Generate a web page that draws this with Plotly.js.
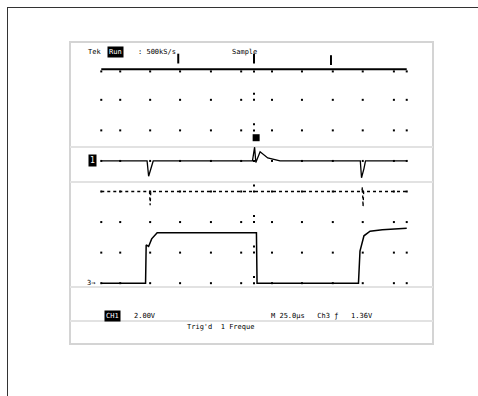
<!DOCTYPE html>
<html>
<head>
<meta charset="utf-8">
<script src="https://cdn.plot.ly/plotly-3.0.1.min.js"></script>
<style>html,body{margin:0;padding:0;background:#fff;}#chart{width:478px;height:396px;}</style>
</head>
<body>
<div id="chart"></div>
<script>
// ---- data (in screen divisions: x 0..10 time, y -4..+4 vertical) ----
var gridX = [0, 0.62, 1.6, 2.58, 3.59, 4.58, 5.0, 5.59, 6.57, 7.58, 8.56, 9.58, 10];
var gridY = [3, 2, 1, 0, -1, -2, -3];
var centerTickY = [3.2, 2.2, 0.2, -0.8, -1.8, -2.8];

var ch1X = [0, 1.5, 1.55, 1.62, 1.7, 4.95, 5.02, 5.06, 5.2, 5.45, 5.85, 8.48, 8.52, 8.6, 8.65, 10];
var ch1Y = [1.0, 1.0, 0.5, 0.7, 1.0, 1.0, 1.45, 0.95, 1.3, 1.1, 1.0, 1.0, 0.45, 0.75, 1.0, 1.0];

var ch2X = [0, 1.58, 1.6, 1.62, 8.53, 8.55, 8.57, 8.59, 10];
var ch2Y = [0, 0, -0.45, 0, 0, 0.15, -0.5, 0, 0];

var ch3X = [0, 1.45, 1.47, 1.55, 1.65, 1.83, 5.08, 5.1, 8.42, 8.47, 8.6, 8.8, 9.2, 10];
var ch3Y = [-3.0, -3.0, -1.75, -1.8, -1.55, -1.35, -1.35, -3.0, -3.0, -1.95, -1.45, -1.3, -1.25, -1.2];

var topMarkX = [2.52, 5.0, 7.52];
var topMarkY = [4.35, 4.35, 4.3];
var trigX = [5.07];
var trigY = [1.76];

var topLabels = ["Tek", "Run", ": 500kS/s", "Sample"];
var bottomLabels = ["CH1", "2.00V", "M 25.0\u00b5s   Ch3 \u0192   1.36V", "Trig'd  1 Freque"];

// ---- build ----
var gx = [], gy = [];
gridY.forEach(function (y) { gridX.forEach(function (x) { gx.push(x); gy.push(y); }); });
gridX.forEach(function (x) { gx.push(x); gy.push(3.93); });
centerTickY.forEach(function (y) { gx.push(5.0); gy.push(y); });

var traces = [
  {x: gx, y: gy, mode: 'markers', type: 'scatter', marker: {symbol: 'square', size: 2, color: '#000'}, hoverinfo: 'skip', cliponaxis: false},
  {x: [0, 10], y: [4, 4], mode: 'lines', type: 'scatter', line: {color: '#000', width: 2}, hoverinfo: 'skip'},
  {x: ch1X, y: ch1Y, mode: 'lines', type: 'scatter', line: {color: '#000', width: 1.3}, hoverinfo: 'skip'},
  {x: ch2X, y: ch2Y, mode: 'lines', type: 'scatter', line: {color: '#000', width: 1.3, dash: 'dot'}, hoverinfo: 'skip'},
  {x: ch3X, y: ch3Y, mode: 'lines', type: 'scatter', line: {color: '#000', width: 1.5}, hoverinfo: 'skip'},
  {x: topMarkX, y: topMarkY, mode: 'markers', type: 'scatter', marker: {symbol: 'line-ns', size: 7, line: {color: '#000', width: 2}}, hoverinfo: 'skip', cliponaxis: false},
  {x: trigX, y: trigY, mode: 'markers', type: 'scatter', marker: {symbol: 'square', size: 7, color: '#000'}, hoverinfo: 'skip', cliponaxis: false}
];

var L = 86, R = 56, T = 54, B = 67, W = 478, H = 396;
var pw = W - L - R, ph = H - T - B;
function px(x) { return (x - L) / pw; }
function py(y) { return (H - B - y) / ph; }

function hline(y, x0, x1, color, w) {
  return {type: 'line', xref: 'paper', yref: 'paper', x0: px(x0), x1: px(x1), y0: py(y), y1: py(y), line: {color: color, width: w}, layer: 'below'};
}
var shapes = [
  {type: 'line', xref: 'paper', yref: 'paper', x0: px(7), x1: px(479), y0: py(7.5), y1: py(7.5), line: {color: '#333', width: 1}},
  {type: 'line', xref: 'paper', yref: 'paper', x0: px(7.5), x1: px(7.5), y0: py(7), y1: py(397), line: {color: '#333', width: 1}},
  {type: 'rect', xref: 'paper', yref: 'paper', x0: px(70), x1: px(433), y0: py(42), y1: py(344), line: {color: '#d4d4d4', width: 2}, layer: 'below'},
  hline(147, 70, 433, '#e2e2e2', 2),
  hline(182, 70, 433, '#e2e2e2', 2),
  hline(287, 70, 433, '#e2e2e2', 2),
  hline(321, 70, 433, '#e2e2e2', 2)
];

var fnt = {family: 'DejaVu Sans Mono', size: 7, color: '#000'};
function ann(text, x, y, opts) {
  var a = {text: text, xref: 'paper', yref: 'paper', x: px(x), y: py(y), xanchor: 'left', yanchor: 'middle', showarrow: false, font: fnt, borderpad: 0};
  for (var k in opts) a[k] = opts[k];
  return a;
}
var annotations = [
  ann(topLabels[0], 87, 52),
  ann(topLabels[1], 107, 52, {bgcolor: '#000', font: {family: 'DejaVu Sans Mono', size: 7, color: '#fff'}, borderpad: 1}),
  ann(topLabels[2], 137, 52),
  ann(topLabels[3], 231, 52),
  ann('1', 88, 160, {bgcolor: '#000', font: {family: 'DejaVu Sans Mono', size: 8, color: '#fff'}, borderpad: 1}),
  ann('3\u2192', 86, 283),
  ann(bottomLabels[0], 104, 316, {bgcolor: '#000', font: {family: 'DejaVu Sans Mono', size: 7, color: '#fff'}, borderpad: 1}),
  ann(bottomLabels[1], 133, 316),
  ann(bottomLabels[2], 270, 316),
  ann(bottomLabels[3], 186, 327)
];

var layout = {
  width: W, height: H,
  margin: {l: L, r: R, t: T, b: B, pad: 0},
  paper_bgcolor: '#fff', plot_bgcolor: 'rgba(0,0,0,0)',
  showlegend: false,
  xaxis: {range: [-0.5, 10.5], visible: false, fixedrange: true},
  yaxis: {range: [-4.5, 4.5], visible: false, fixedrange: true},
  shapes: shapes,
  annotations: annotations
};
Plotly.newPlot('chart', traces, layout, {displayModeBar: false, staticPlot: true});
</script>
</body>
</html>
